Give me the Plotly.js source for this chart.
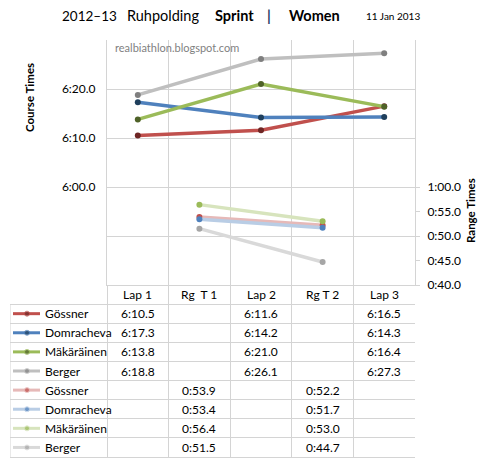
<!DOCTYPE html>
<html><head><meta charset="utf-8">
<script src="https://cdn.plot.ly/plotly-3.0.1.min.js"></script>
<style>html,body{margin:0;padding:0;background:#fff}</style>
</head><body><div id="chart" style="width:479px;height:463px"></div>
<script>
// ---------- data ----------
const categories = ['Lap 1', 'Rg  T 1', 'Lap 2', 'Rg T 2', 'Lap 3'];
const athletes = ['Gössner', 'Domracheva', 'Mäkäräinen', 'Berger'];
// course times in seconds (Lap 1, Lap 2, Lap 3)
const gossnerCourse     = [370.5, null, 371.6, null, 376.5];
const domrachevaCourse  = [377.3, null, 374.2, null, 374.3];
const makarainenCourse  = [373.8, null, 381.0, null, 376.4];
const bergerCourse      = [378.8, null, 386.1, null, 387.3];
// range times in seconds (Rg T 1, Rg T 2)
const gossnerRange      = [null, 53.9, null, 52.2, null];
const domrachevaRange   = [null, 53.4, null, 51.7, null];
const makarainenRange   = [null, 56.4, null, 53.0, null];
const bergerRange       = [null, 51.5, null, 44.7, null];
const courseTicks = [350, 360, 370, 380];
const rangeTicks  = [40, 45, 50, 55, 60];

// ---------- styles ----------
const courseLine   = ['#C0504D', '#4F81BD', '#9BBB59', '#BFBFBF'];
const courseMarker = ['#6E2624', '#1F3F5C', '#4F6228', '#7F7F7F'];
const rangeLine    = ['#E6B9B8', '#B9CDE5', '#D7E4BD', '#D9D9D9'];
const rangeMarker  = ['#C0504D', '#4F81BD', '#9BBB59', '#A6A6A6'];
const FONT = 'Lato, "Liberation Sans", sans-serif';
const GRID = '#D4D4D4';

function fmt(s) {
  if (s === null) return '';
  const m = Math.floor(s / 60);
  const r = s - m * 60;
  return m + ':' + (r < 10 ? '0' : '') + r.toFixed(1);
}

const courseSeries = [gossnerCourse, domrachevaCourse, makarainenCourse, bergerCourse];
const rangeSeries = [gossnerRange, domrachevaRange, makarainenRange, bergerRange];
const xs = categories.map((c, i) => i);

// geometry (pixels)
const W = 479, H = 463, ML = 10, MR = 64, MT = 40, MB = 6;
const plotW = W - ML - MR, plotH = H - MT - MB;
const plotLeft = 107, plotBottom = 285;
const unitPx = (W - MR - plotLeft) / categories.length;
const tableXMin = -0.5 - (plotLeft - ML) / unitPx;
const mainYDomain = [(H - MB - plotBottom) / plotH, 1];
const u = px => tableXMin + (px - ML) / unitPx;
const paperX = px => (px - ML) / plotW;
const paperY = py => (H - MB - py) / plotH;

const traces = [];
courseSeries.forEach((s, k) => {
  traces.push({x: xs, y: s, type: 'scatter', mode: 'lines+markers', connectgaps: true,
    xaxis: 'x', yaxis: 'y', line: {color: courseLine[k], width: 3.5},
    marker: {color: courseMarker[k], size: 6}, hoverinfo: 'skip'});
});
rangeSeries.forEach((s, k) => {
  traces.push({x: xs, y: s, type: 'scatter', mode: 'lines+markers', connectgaps: true,
    xaxis: 'x', yaxis: 'y2', line: {color: rangeLine[k], width: 3.5},
    marker: {color: rangeMarker[k], size: 6}, hoverinfo: 'skip'});
});

// table legend keys and cells
const annotations = [];
const allSeries = courseSeries.concat(rangeSeries);
const keyLine = courseLine.concat(rangeLine);
const keyMarker = courseMarker.concat(rangeMarker);
allSeries.forEach((s, r) => {
  const row = r + 1;
  traces.push({x: [u(13), u(27), u(40)], y: [row, row, row], type: 'scatter', mode: 'lines+markers',
    xaxis: 'x3', yaxis: 'y3', line: {color: keyLine[r], width: 3},
    marker: {color: keyMarker[r], size: [0, 5, 0]}, hoverinfo: 'skip'});
  annotations.push({xref: 'x3', yref: 'y3', x: u(43), y: row, text: athletes[r % 4], showarrow: false,
    xanchor: 'left', yanchor: 'middle', font: {family: FONT, size: 12, color: '#000'}});
  s.forEach((v, c) => {
    if (v !== null) annotations.push({xref: 'x3', yref: 'y3', x: c, y: row, text: fmt(v), showarrow: false,
      xanchor: 'center', yanchor: 'middle', font: {family: FONT, size: 12, color: '#000'}});
  });
});
categories.forEach((c, i) => {
  annotations.push({xref: 'x3', yref: 'y3', x: i, y: 0, text: c.replace(/ /g, '&nbsp;'), showarrow: false,
    xanchor: 'center', yanchor: 'middle', font: {family: FONT, size: 12, color: '#000'}});
});

// title pieces
const titleParts = [
  {t: '2012–13', px: 60, size: 13.5, color: '#000'},
  {t: 'Ruhpolding', px: 125, size: 14.5, color: '#000'},
  {t: '<b>Sprint</b>', px: 213, size: 14.5, color: '#000'},
  {t: '<b>|</b>', px: 265, size: 14.5, color: '#1F3864'},
  {t: '<b>Women</b>', px: 287, size: 14.5, color: '#000'},
  {t: '11 Jan 2013', px: 364, size: 10, color: '#000'}
];
titleParts.forEach(p => annotations.push({xref: 'paper', yref: 'paper', x: paperX(p.px), y: paperY(16),
  text: p.t, showarrow: false, xanchor: 'left', yanchor: 'middle',
  font: {family: FONT, size: p.size, color: p.color}}));
annotations.push({xref: 'paper', yref: 'paper', x: paperX(113), y: paperY(47), text: 'realbiathlon.blogspot.com',
  showarrow: false, xanchor: 'left', yanchor: 'middle', font: {family: FONT, size: 11, color: '#7F7F7F'}});
annotations.push({xref: 'paper', yref: 'paper', x: paperX(29), y: paperY(98), text: '<b>Course Times</b>',
  showarrow: false, textangle: -90, xanchor: 'center', yanchor: 'middle', font: {family: FONT, size: 11.5, color: '#000'}});
annotations.push({xref: 'paper', yref: 'paper', x: paperX(470), y: paperY(211), text: '<b>Range Times</b>',
  showarrow: false, textangle: -90, xanchor: 'center', yanchor: 'middle', font: {family: FONT, size: 11.5, color: '#000'}});

const layout = {
  width: W, height: H, margin: {l: ML, r: MR, t: MT, b: MB},
  paper_bgcolor: '#fff', plot_bgcolor: 'rgba(0,0,0,0)', showlegend: false,
  font: {family: FONT, size: 11, color: '#000'},
  xaxis: {domain: [(plotLeft - ML) / plotW, 1], range: [-0.5, 4.5], tickvals: [0.5, 1.5, 2.5, 3.5],
    showticklabels: false, ticks: '', showgrid: true, gridcolor: GRID, gridwidth: 1, zeroline: false,
    showline: true, linecolor: GRID, linewidth: 1, anchor: 'y', fixedrange: true},
  yaxis: {domain: mainYDomain, range: [340, 390], tickvals: courseTicks,
    ticktext: courseTicks.map(v => v >= 360 ? fmt(v) : ''),
    ticks: '', ticklabelstandoff: 8, showgrid: true, gridcolor: GRID, zeroline: false,
    showline: true, linecolor: GRID, tickfont: {family: FONT, size: 12, color: '#000'}, anchor: 'x'},
  yaxis2: {overlaying: 'y', side: 'right', range: [40, 90], tickvals: rangeTicks,
    ticktext: rangeTicks.map(fmt), ticks: 'outside', ticklen: 4, tickcolor: GRID, ticklabelstandoff: 5,
    showgrid: false, zeroline: false,
    showline: true, linecolor: GRID, tickfont: {family: FONT, size: 12, color: '#000'}, anchor: 'x'},
  xaxis3: {domain: [0, 1], range: [tableXMin, 4.5], tickvals: [-0.5, 0.5, 1.5, 2.5, 3.5, 4.5],
    showticklabels: false, ticks: '', showgrid: true, gridcolor: GRID, zeroline: false,
    showline: true, linecolor: GRID, anchor: 'y3'},
  yaxis3: {domain: [0, mainYDomain[0]], range: [8.5, -0.5], tickvals: [0.5, 1.5, 2.5, 3.5, 4.5, 5.5, 6.5, 7.5],
    showticklabels: false, ticks: '', showgrid: true, gridcolor: GRID, zeroline: false, showline: false, anchor: 'x3'},
  shapes: [{type: 'line', xref: 'x3', yref: 'y3', x0: tableXMin, x1: tableXMin, y0: 0.5, y1: 8.5,
    line: {color: GRID, width: 1}}],
  annotations: annotations
};
Plotly.newPlot('chart', traces, layout, {staticPlot: true, displayModeBar: false});
</script></body></html>
